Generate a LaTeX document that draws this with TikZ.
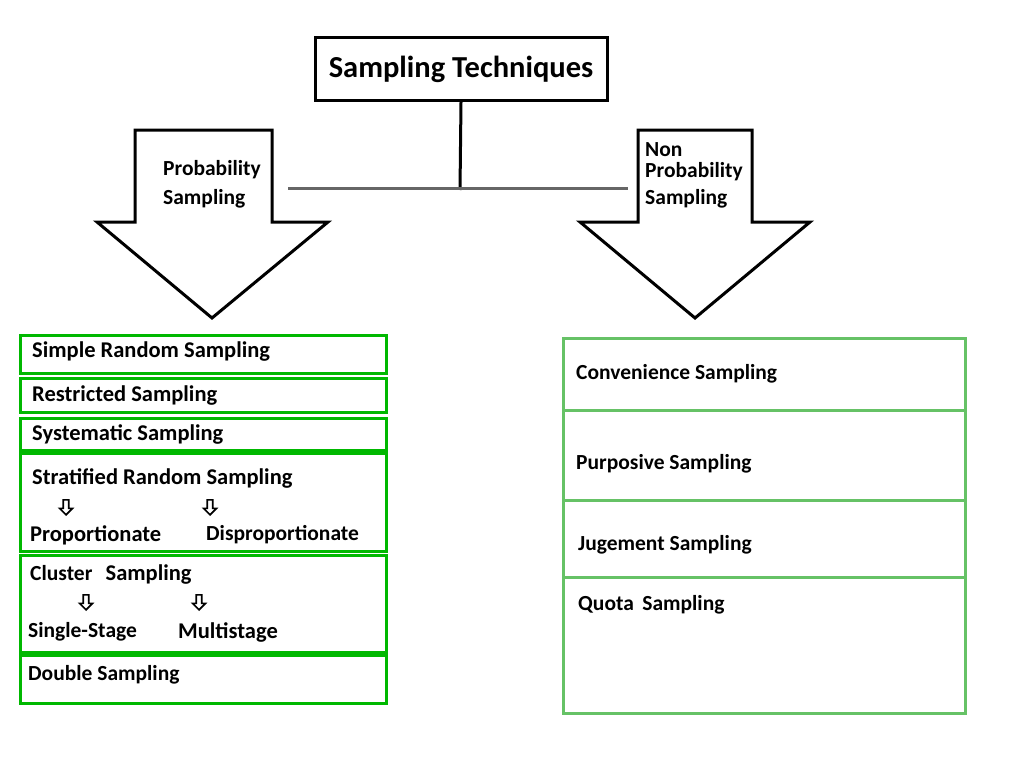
\documentclass[tikz,border=0pt]{standalone}
\usepackage{fontspec}
\setmainfont{Carlito}
\usetikzlibrary{shapes.arrows}
\begin{document}
\begin{tikzpicture}[x=1pt,y=-1pt,
  box/.style={draw=green!60!black!70!green, line width=3pt},
  item/.style={anchor=west, font=\fontsize{22.5}{24}\selectfont\bfseries, inner sep=0pt},
  sub/.style={anchor=west, font=\fontsize{21.5}{23}\selectfont\bfseries, inner sep=0pt},
  down/.style={single arrow, draw, line width=1.6pt, rotate=-90, minimum height=15pt, minimum width=13pt, single arrow head extend=2.5pt, inner sep=1pt},
  bigarrow/.style={draw, line width=3pt, fill=white}]
\useasboundingbox (0,0) rectangle (1024,768);

% title and branching lines
\node[draw, line width=3pt, minimum width=292pt, minimum height=63pt,
  font=\fontsize{30.5}{32}\selectfont\bfseries] (title) at (461,69) {Sampling Techniques};
\coordinate (junction) at (460,190);
\draw[line width=3pt] (title.south) -- (junction);
\draw[gray!80!black, line width=3pt] (288,188) -- (628,188);

% big hollow arrows
\draw[bigarrow] (135,130) -- (272,130) -- (272,222) -- (328,222) -- (212,318)
  -- (97,222) -- (135,222) -- cycle;
\node[sub, align=left] (prob) at (163,184) {Probability\\[6pt]Sampling};
\draw[bigarrow] (638,130) -- (752,130) -- (752,222) -- (810,222) -- (695,318)
  -- (580,222) -- (638,222) -- cycle;
\node[sub, align=left] (nonprob) at (645,175) {Non\\[-2pt]Probability\\[4pt]Sampling};

% probability sampling list
\draw[box] (20,335) rectangle (386,373);
\draw[box] (20,378) rectangle (386,412);
\draw[box] (20,418) rectangle (386,450);
\draw[box] (20,453) rectangle (386,551);
\draw[box] (20,555) rectangle (386,652);
\draw[box] (20,655) rectangle (386,703);
\node[item] (simple) at (32,352) {Simple Random Sampling};
\node[item] (restricted) at (32,396) {Restricted Sampling};
\node[item] (systematic) at (32,434) {Systematic Sampling};
\node[item] (stratified) at (32,478) {Stratified Random Sampling};
\node[down] (a1) at (66,506) {};
\node[down] (a2) at (210,506) {};
\node[item] (prop) at (30,535) {Proportionate};
\node[sub] (disprop) at (206,535) {Disproportionate};
\node[sub] (cluster) at (30,575) {Cluster \, \fontsize{22.5}{24}\selectfont Sampling};
\node[down] (a3) at (86,601) {};
\node[down] (a4) at (199,601) {};
\node[sub] (single) at (28,632) {Single-Stage};
\node[item] (multi) at (178,632) {Multistage};
\node[sub] (double) at (28,675) {Double Sampling};

% non-probability sampling list
\draw[box, green!60!black!60!white] (563,338) rectangle (965,713);
\foreach \y in {410,500,577}
  \draw[box, green!60!black!60!white] (563,\y) -- (965,\y);
\node[sub] (conv) at (576,374) {Convenience Sampling};
\node[sub] (purp) at (576,464) {Purposive Sampling};
\node[sub] (judg) at (578,545) {Jugement Sampling};
\node[sub] (quota) at (578,605) {Quota\, Sampling};
\end{tikzpicture}
\end{document}
